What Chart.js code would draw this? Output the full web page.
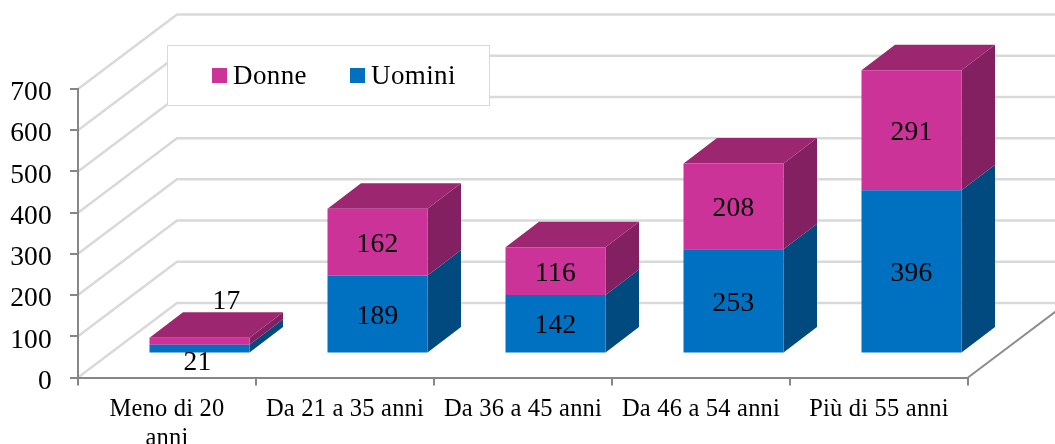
<!DOCTYPE html>
<html><head><meta charset="utf-8">
<style>html,body{margin:0;padding:0;background:#fff}canvas{display:block}</style>
<script src="https://cdn.jsdelivr.net/npm/chart.js@4"></script>
</head><body>
<canvas id="c" width="1055" height="444"></canvas>
<script>
const categories = [["Meno di 20","anni"],"Da 21 a 35 anni","Da 36 a 45 anni","Da 46 a 54 anni","Più di 55 anni"];
const uomini = [21,189,142,253,396];
const donne = [17,162,116,208,291];
const yTicks = [0,100,200,300,400,500,600,700];

const FONT = '"Liberation Serif"';
const BLUE = '#0070c0', PINK = '#cc3399';
const shade = {[BLUE]:{side:'#004a80'},[PINK]:{side:'#822062',top:'#9c2670'}};
const WALL = {dx:99, dy:-74.5};
const BAR = {dx:32.5, dy:-24, ddx:33.5, ddy:-25.5};

const poly = (ctx,pts,fill)=>{ctx.beginPath();pts.forEach((p,i)=>i?ctx.lineTo(p[0],p[1]):ctx.moveTo(p[0],p[1]));ctx.closePath();ctx.fillStyle=fill;ctx.fill();};

const walls = {
  id:'walls',
  beforeDraw(chart){
    const {ctx,scales:{x,y}} = chart;
    const L = chart.chartArea.left, R = chart.chartArea.right;
    ctx.letterSpacing='0.2px';
    ctx.save();
    ctx.strokeStyle='#d9d9d9';ctx.lineWidth=2.5;
    yTicks.forEach(v=>{
      const p=y.getPixelForValue(v);
      ctx.beginPath();ctx.moveTo(L,p);ctx.lineTo(L+WALL.dx,p+WALL.dy);ctx.lineTo(1055,p+WALL.dy);ctx.stroke();
    });
    // floor edge
    const b=y.getPixelForValue(0);
    ctx.strokeStyle='#8c8c8c';ctx.lineWidth=2;
    ctx.beginPath();ctx.moveTo(R,b);ctx.lineTo(R+WALL.dx,b+WALL.dy);ctx.stroke();
    // legend box
    ctx.fillStyle='#fff';ctx.strokeStyle='#d9d9d9';ctx.lineWidth=1;
    ctx.fillRect(167,45,322,60);ctx.strokeRect(167.5,45.5,322,60);
    // legend entries
    ctx.textBaseline='middle';ctx.textAlign='left';ctx.font='27px '+FONT;
    ctx.letterSpacing='0.4px';
    const ds=chart.data.datasets;
    [[ds[1],212],[ds[0],350]].forEach(([d,lx])=>{
      ctx.fillStyle=d.backgroundColor;ctx.fillRect(lx,68,15,15);
      ctx.fillStyle='#000';ctx.fillText(d.label,lx+21,77);
    });
    ctx.restore();
    ctx.letterSpacing='0.2px';
  }
};

const bars3d = {
  id:'bars3d',
  beforeDatasetsDraw(chart){
    const {ctx}=chart;
    ctx.save();
    ctx.translate(BAR.dx,BAR.dy);
    chart.data.datasets.forEach((d,i)=>{
      const isTop = i===chart.data.datasets.length-1;
      chart.getDatasetMeta(i).data.forEach(el=>{
        const l=el.x-el.width/2,r=el.x+el.width/2,t=el.y,b=el.base;
        poly(ctx,[[r,t],[r+BAR.ddx,t+BAR.ddy],[r+BAR.ddx,b+BAR.ddy],[r,b]],shade[d.backgroundColor].side);
        if(isTop) poly(ctx,[[l,t],[l+BAR.ddx,t+BAR.ddy],[r+BAR.ddx,t+BAR.ddy],[r,t]],shade[d.backgroundColor].top);
      });
    });
  },
  afterDatasetsDraw(chart){
    const {ctx}=chart;
    ctx.restore();
    ctx.save();
    ctx.font='27.5px '+FONT;ctx.fillStyle='#000';ctx.textAlign='center';ctx.textBaseline='middle';
    chart.data.datasets.forEach((d,i)=>{
      chart.getDatasetMeta(i).data.forEach((el,k)=>{
        const v=d.data[k];
        let x=el.x+BAR.dx,y=(el.y+el.base)/2+BAR.dy+2.5;
        if(v<50){
          if(i===0){y=el.base+BAR.dy+10;x-=2;}
          else{y=el.y+BAR.dy+BAR.ddy-11;x+=27;}
        }
        ctx.fillText(String(v),x,y);
      });
    });
    ctx.restore();
  }
};

function nudgeLabels(s,dy){
  const orig=s._computeLabelItems;
  s._computeLabelItems=function(a){
    const items=orig.call(this,a);
    items.forEach(it=>{it.options.translation=[it.options.translation[0],it.options.translation[1]+dy];});
    return items;
  };
}

new Chart(document.getElementById('c'),{
  type:'bar',
  data:{labels:categories,datasets:[
    {label:'Uomini',data:uomini,backgroundColor:BLUE,borderWidth:0,barPercentage:100/178,categoryPercentage:1,clip:false},
    {label:'Donne',data:donne,backgroundColor:PINK,borderWidth:0,barPercentage:100/178,categoryPercentage:1,clip:false}
  ]},
  options:{
    responsive:false,animation:false,
    layout:{padding:{top:89,right:87,left:0,bottom:0}},
    plugins:{legend:{display:false},tooltip:{enabled:false}},
    scales:{
      x:{stacked:true,
        afterFit(s){s.height=66.5;},
        grid:{drawOnChartArea:false,drawTicks:true,tickLength:8,color:'#868686',lineWidth:2,offset:true},
        border:{display:true,color:'#868686',width:2},
        ticks:{color:'#000',font:{family:FONT,size:24.5},padding:9,maxRotation:0,autoSkip:false}
      },
      y:{stacked:true,min:0,max:700,
        afterFit(s){s.width=78;},
        afterBuildTicks(s){s.ticks=yTicks.map(v=>({value:v}));},
        beforeUpdate(s){nudgeLabels(s,2);},
        grid:{drawOnChartArea:false,drawTicks:true,tickLength:8,color:'#868686',lineWidth:2},
        border:{display:true,color:'#868686',width:2},
        ticks:{color:'#000',font:{family:FONT,size:27.5},padding:18}
      }
    }
  },
  plugins:[walls,bars3d]
});
</script>
</body></html>
